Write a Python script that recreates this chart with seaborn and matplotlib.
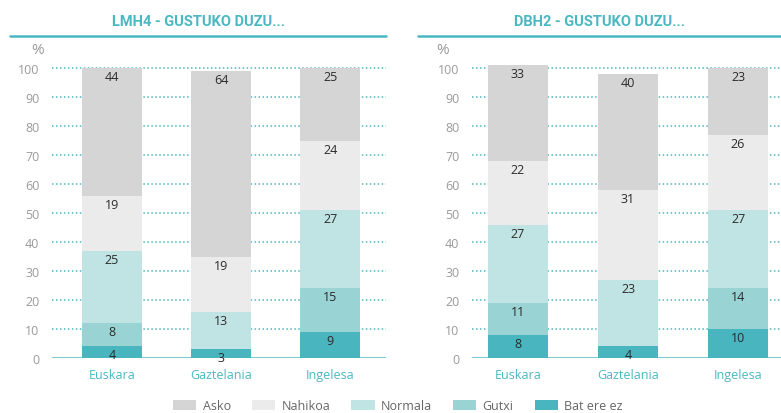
import matplotlib
matplotlib.use("Agg")
import matplotlib.pyplot as plt
import seaborn as sns
import pandas as pd
import numpy as np
from matplotlib.patches import Patch
from matplotlib.lines import Line2D

sns.set_theme(style="white")
plt.rcParams["font.family"] = ["Open Sans", "DejaVu Sans"]

# Data
languages = ["Euskara", "Gaztelania", "Ingelesa"]
levels = ["Bat ere ez", "Gutxi", "Normala", "Nahikoa", "Asko"]  # bottom to top
titles = ["LMH4 - GUSTUKO DUZU...", "DBH2 - GUSTUKO DUZU..."]

lmh4_bat_ere_ez = [4, 3, 9]
lmh4_gutxi = [8, 0, 15]
lmh4_normala = [25, 13, 27]
lmh4_nahikoa = [19, 19, 24]
lmh4_asko = [44, 64, 25]

dbh2_bat_ere_ez = [8, 4, 10]
dbh2_gutxi = [11, 0, 14]
dbh2_normala = [27, 23, 27]
dbh2_nahikoa = [22, 31, 26]
dbh2_asko = [33, 40, 23]

panels = [
    [lmh4_bat_ere_ez, lmh4_gutxi, lmh4_normala, lmh4_nahikoa, lmh4_asko],
    [dbh2_bat_ere_ez, dbh2_gutxi, dbh2_normala, dbh2_nahikoa, dbh2_asko],
]

colors = {
    "Bat ere ez": "#49b5be",
    "Gutxi": "#9ad3d4",
    "Normala": "#c0e4e3",
    "Nahikoa": "#ebebeb",
    "Asko": "#d5d5d5",
}
teal = "#4ab8c2"
grey_txt = "#9a9a9a"

W, H = 781, 414
fig = plt.figure(figsize=(W / 100, H / 100), dpi=100)

# axes boxes in pixels: (left, right)
ax_px = [(52, 386), (472, 781)]
xlims = [(-0.55, 2.51), (-0.418, 2.39)]
y0_px, y100_px = 359, 69
ytop = 101
px_per_unit = (y0_px - y100_px) / 100.0
bottom_f = (H - y0_px) / H
height_f = (ytop * px_per_unit) / H

line_px = [(10, 386), (418, 781)]
pct_px = [38, 443]

for i, (layers, title) in enumerate(zip(panels, titles)):
    l, r = ax_px[i]
    ax = fig.add_axes([l / W, bottom_f, (r - l) / W, height_f])
    ax.set_facecolor("none")

    df = pd.DataFrame({lvl: vals for lvl, vals in zip(levels, layers)}, index=languages)
    cum = df.cumsum(axis=1)

    # dotted grid lines behind the bars
    for yv in range(10, 101, 10):
        ax.axhline(yv, color=teal, lw=1.1, ls=(0, (1, 1.6)), zorder=0)

    # stacked bars: draw cumulative totals from the top layer down
    for lvl in reversed(levels):
        sns.barplot(x=languages, y=cum[lvl].values, color=colors[lvl],
                    width=0.55, ax=ax, zorder=2, saturation=1, edgecolor="none")

    # value labels at top of each segment
    for j, lang in enumerate(languages):
        for lvl in levels:
            v = df.loc[lang, lvl]
            if v <= 0:
                continue
            top = cum.loc[lang, lvl]
            ax.annotate(f"{v:g}", (j, top), xytext=(0, -1.5), textcoords="offset points",
                        ha="center", va="top", fontsize=9, color="#2b2b2b", zorder=5)

    ax.axhline(0, color="#7ccdd3", lw=2.2, zorder=1)

    ax.set_xlim(*xlims[i])
    ax.set_ylim(0, ytop)
    ax.set_yticks(range(0, 101, 10))
    ax.tick_params(axis="y", length=0, pad=9, labelsize=9, labelcolor=grey_txt)
    ax.tick_params(axis="x", length=0, pad=7, labelsize=9, labelcolor=teal)
    ax.set_xlabel("")
    ax.set_ylabel("")
    for s in ax.spines.values():
        s.set_visible(False)

    # title and underline
    lx0, lx1 = line_px[i]
    fig.add_artist(Line2D([lx0 / W, lx1 / W], [(H - 37) / H] * 2, color=teal, lw=1.8))
    fig.text((lx0 + lx1) / 2 / W, (H - 22) / H, title, ha="center", va="center",
             fontsize=10.5, fontweight="bold", color=teal, family=["Roboto", "DejaVu Sans"])
    fig.text(pct_px[i] / W, (H - 50) / H, "%", ha="center", va="center",
             fontsize=11, color=grey_txt)

# legend
legend_order = ["Asko", "Nahikoa", "Normala", "Gutxi", "Bat ere ez"]
handles = [Patch(facecolor=colors[k], edgecolor="none") for k in legend_order]
fig.legend(handles, legend_order, loc="center", bbox_to_anchor=(398 / W, (H - 407) / H),
           ncol=5, frameon=False, fontsize=9, labelcolor="#666666",
           handlelength=1.85, handleheight=0.9, handletextpad=0.5, columnspacing=1.7)

fig.savefig("out.png", dpi=100)
